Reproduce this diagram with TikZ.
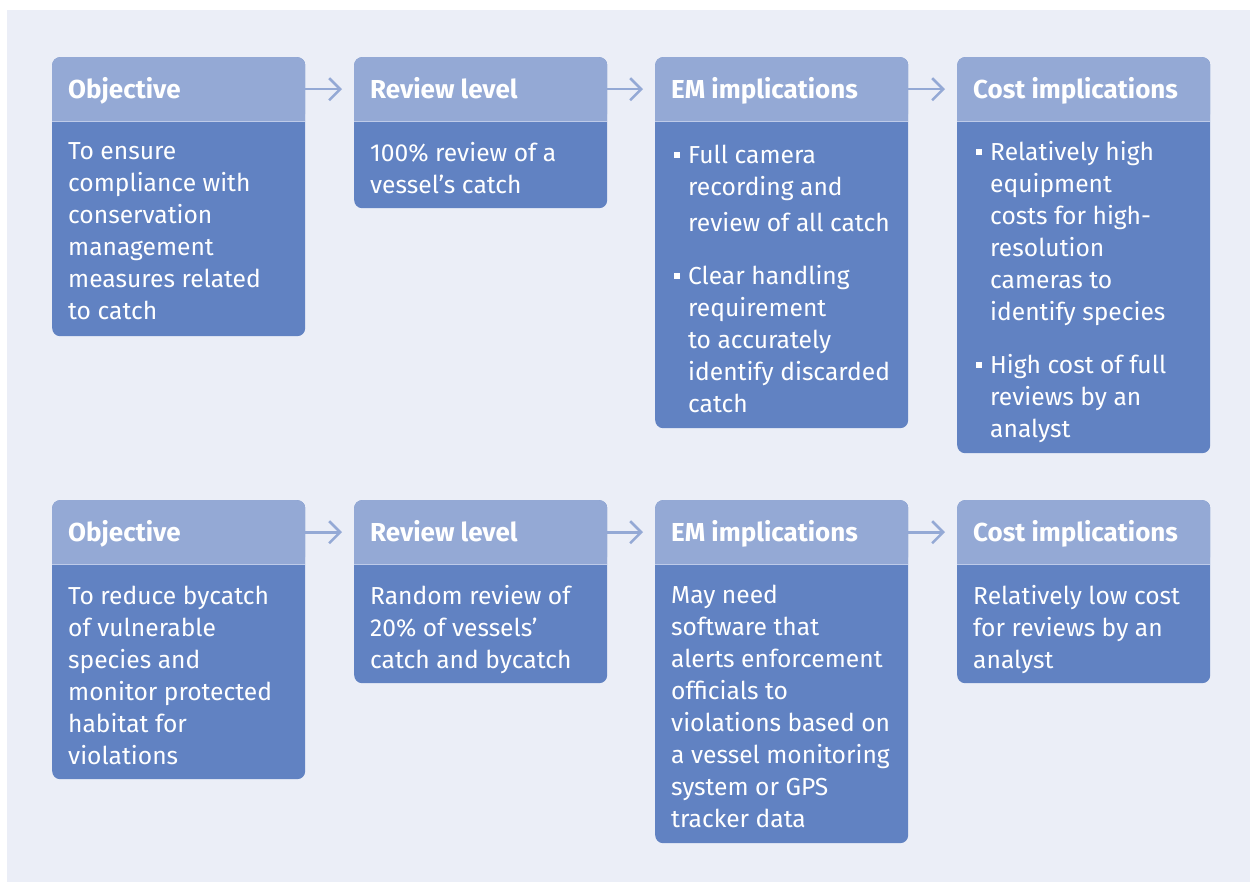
\documentclass[tikz,border=0pt]{standalone}
\usepackage{fontspec}
\setmainfont{Fira Sans}
\usetikzlibrary{arrows.meta,positioning}
\definecolor{bgc}{RGB}{235,238,247}
\definecolor{headc}{RGB}{148,169,213}
\definecolor{bodyc}{RGB}{97,130,194}
\definecolor{sepc}{RGB}{190,203,233}
\definecolor{arrc}{RGB}{148,169,213}
\newcommand\bul{\llap{\raisebox{6pt}{\rule{6pt}{6pt}}\hspace{8pt}}}
\tikzset{
  card/.style={fill=bodyc, rounded corners=8pt, anchor=north west, minimum width=253pt, inner sep=0pt},
  headbox/.style={fill=headc, rounded corners=8pt, anchor=north west, minimum width=253pt, minimum height=64pt, inner sep=0pt},
  headtext/.style={anchor=base west, inner sep=0pt, text=white, font=\fontsize{26}{30}\selectfont\bfseries},
  bodytext/.style={anchor=north west, yshift=16.6pt, inner sep=0pt, text=white, align=left, font=\fontsize{24.6}{32}\selectfont, execute at begin node=\strut},
  arr/.style={draw=arrc, line width=2.6pt, -{Straight Barb[length=11pt,width=22pt,line width=2.6pt]}, shorten >=12pt}
}
\begin{document}
\begin{tikzpicture}[x=1pt,y=-1pt]
\useasboundingbox (0,0) rectangle (1250,882);
\fill[bgc] (7,10) rectangle (1250,882);
\foreach \x/\yt/\hgt/\nm in {52/57/279/c11, 354/57/151/c12, 655/57/371/c13, 957/57/396/c14,
                             52/500/279/c21, 354/500/183/c22, 655/500/343/c23, 957/500/183/c24}{
  \node[card, minimum height=\hgt pt] (\nm) at (\x,\yt) {};
  \node[headbox] (h\nm) at (\x,\yt) {};
  \fill[headc] (h\nm.west) rectangle (h\nm.south east);
  \draw[sepc, line width=1.5pt] (h\nm.south west) -- (h\nm.south east);
}
% header texts
\node[headtext] (t11) at (68,98.5) {Objective};
\node[headtext] (t12) at (370,98.5) {Review level};
\node[headtext] (t13) at (671,98.5) {EM implications};
\node[headtext] (t14) at (973,98.5) {Cost implications};
\node[headtext] (t21) at (68,541.5) {Objective};
\node[headtext] (t22) at (370,541.5) {Review level};
\node[headtext] (t23) at (671,541.5) {EM implications};
\node[headtext] (t24) at (973,541.5) {Cost implications};
% arrows
\draw[arr] (hc11.east) -- (hc12.west);
\draw[arr] (hc12.east) -- (hc13.west);
\draw[arr] (hc13.east) -- (hc14.west);
\draw[arr] (hc21.east) -- (hc22.west);
\draw[arr] (hc22.east) -- (hc23.west);
\draw[arr] (hc23.east) -- (hc24.west);
% body texts row 1
\node[bodytext] (b11) at (68,159) {To ensure\\compliance with\\conservation\\management\\measures related\\to catch};
\node[bodytext] (b12) at (370,159) {100\% review of a\\vessel’s catch};
\node[bodytext] (b13) at (688,161.5) {\bul Full camera\\recording and\\[4pt]review of all catch\\[21pt]\bul Clear handling\\requirement\\to accurately\\identify discarded\\catch};
\node[bodytext] (b14) at (990,158) {\bul Relatively high\\equipment\\costs for high-\\resolution\\cameras to\\identify species\\[21pt]\bul High cost of full\\reviews by an\\analyst};
% body texts row 2
\node[bodytext] (b21) at (68,602) {To reduce bycatch\\of vulnerable\\species and\\monitor protected\\habitat for\\violations};
\node[bodytext] (b22) at (370,602) {Random review of\\20\% of vessels’\\catch and bycatch};
\node[bodytext] (b23) at (671,601) {May need\\software that\\alerts enforcement\\officials to\\violations based on\\a vessel monitoring\\system or GPS\\tracker data};
\node[bodytext] (b24) at (973,602) {Relatively low cost\\for reviews by an\\analyst};
\end{tikzpicture}
\end{document}
